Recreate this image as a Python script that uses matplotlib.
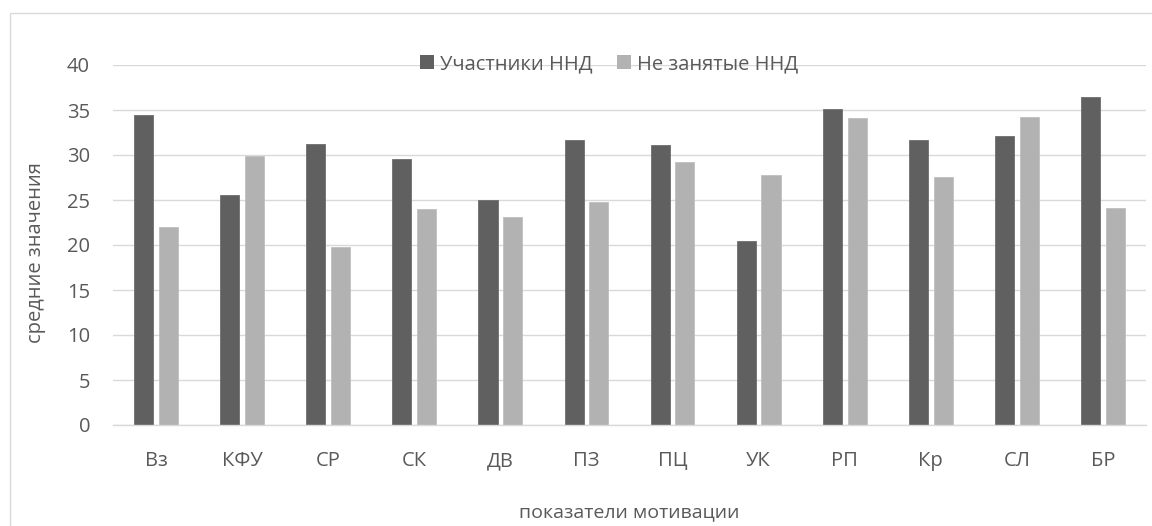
import matplotlib
matplotlib.use("Agg")
import matplotlib.pyplot as plt
from matplotlib.patches import Rectangle
import numpy as np

categories = ["Вз", "КФУ", "СР", "СК", "ДВ", "ПЗ", "ПЦ", "УК", "РП", "Кр", "СЛ", "БР"]
participants = [34.5, 25.6, 31.2, 29.6, 25.0, 31.7, 31.1, 20.5, 35.1, 31.7, 32.1, 36.4]
not_engaged = [22.0, 29.9, 19.8, 24.0, 23.1, 24.8, 29.2, 27.8, 34.1, 27.6, 34.2, 24.1]
series_names = ["Участники ННД", "Не занятые ННД"]
y_ticks = [0, 5, 10, 15, 20, 25, 30, 35, 40]

W, H = 1152, 526
DPI = 100
plt.rcParams['font.family'] = ['Open Sans', 'DejaVu Sans']
TXT = "#595959"
GRID = "#d9d9d9"
DARK = "#606060"
LIGHT = "#b2b2b2"

fig = plt.figure(figsize=(W / DPI, H / DPI), dpi=DPI)
# chart area frame (cropped at right/bottom)
fig.patches.append(Rectangle((10 / W, -0.05), 1.2, 1 - 13 / H + 0.05,
                             transform=fig.transFigure, fill=False,
                             edgecolor=GRID, linewidth=1.0))

left, right, top, bottom = 113, 1146, 65, 425
ax = fig.add_axes([left / W, 1 - bottom / H, (right - left) / W, (bottom - top) / H])

x = np.arange(len(categories))
bw = 0.222
off = 0.144
ax.bar(x - off, participants, bw, color=DARK, edgecolor="#6e6e6e", linewidth=0.6,
       label=series_names[0], zorder=3)
ax.bar(x + off, not_engaged, bw, color=LIGHT, edgecolor="#c0c0c0", linewidth=0.6,
       label=series_names[1], zorder=3)

ax.set_xlim(-0.5, len(categories) - 0.5)
ax.set_ylim(0, 40)
ax.set_yticks(y_ticks)
ax.set_xticks(x)
ax.set_xticklabels(categories)
ax.yaxis.grid(True, color=GRID, linewidth=1.0, zorder=0)
ax.set_axisbelow(True)
for s in ["top", "right", "left"]:
    ax.spines[s].set_visible(False)
ax.spines["bottom"].set_color(GRID)
ax.spines["bottom"].set_linewidth(1.0)
ax.spines["bottom"].set_zorder(4)
ax.tick_params(axis="both", length=0, colors=TXT, labelsize=14.5)
ax.tick_params(axis="y", pad=16.5)
ax.tick_params(axis="x", pad=19)

fig.text(36 / W, 1 - 253 / H, "средние значения", rotation=90, ha="center", va="center",
         color=TXT, fontsize=14.5)
fig.text(629 / W, 1 - 512 / H, "показатели мотивации", ha="center", va="center",
         color=TXT, fontsize=14)

leg = fig.legend(loc="center", bbox_to_anchor=(609 / W, 1 - 64 / H), ncol=2, frameon=False,
                 fontsize=14.5, handlelength=0.7, handleheight=0.7, handletextpad=0.3,
                 columnspacing=1.2, labelcolor=TXT)
for h in leg.legend_handles:
    h.set_edgecolor("none")

fig.savefig("out.png", dpi=DPI)
